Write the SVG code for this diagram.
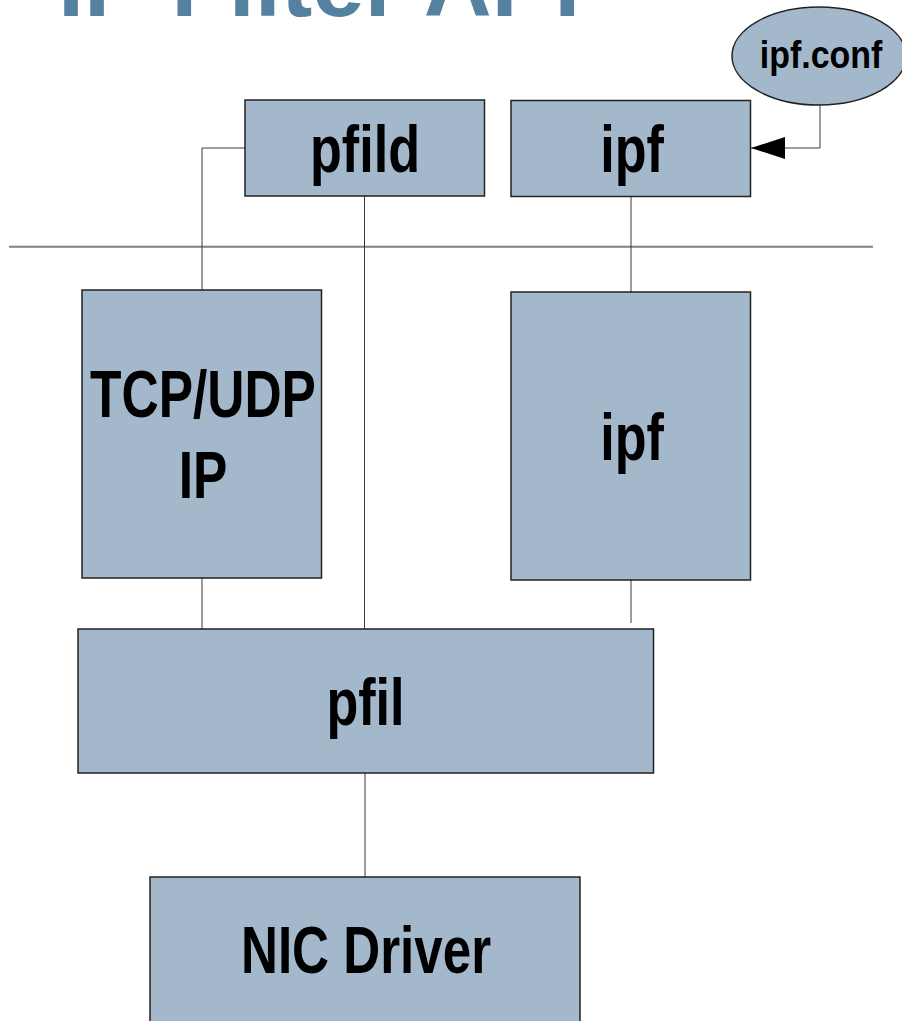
<svg xmlns="http://www.w3.org/2000/svg" width="902" height="1021" viewBox="0 0 902 1021">
  <style>
    .box { fill: #a4b8cc; stroke: #222; stroke-width: 1.5; }
    .lbl { font-family: "Liberation Sans", Arial, sans-serif; font-weight: bold; font-size: 66px; fill: #000; text-anchor: middle; }
    .small { font-size: 39px; }
    .title { font-family: "Liberation Sans", Arial, sans-serif; font-weight: bold; font-size: 94px; fill: #53819f; }
    .wire { fill: none; stroke: #3a3a3a; stroke-width: 1; }
    .sep { stroke: #7f7f7f; stroke-width: 2; }
  </style>
  <defs>
    <marker id="arrow" viewBox="0 0 34 22" refX="34" refY="11" markerWidth="34" markerHeight="22" markerUnits="userSpaceOnUse" orient="auto">
      <path d="M0,0 L34,11 L0,22 Z" fill="#000"/>
    </marker>
  </defs>
  <rect width="902" height="1021" fill="#fff"/>

  <!-- heading, mostly above the top edge -->
  <text class="title" x="58" y="15.5">IP Filter API</text>

  <!-- user / kernel boundary -->
  <line class="sep" x1="9" y1="246.7" x2="873" y2="246.7"/>

  <g id="connectors">
    <polyline class="wire" points="245,148 202,148 202,290"/>
    <line class="wire" x1="364.5" y1="196" x2="364.5" y2="629"/>
    <line class="wire" x1="631" y1="196" x2="631" y2="292"/>
    <line class="wire" x1="202" y1="578" x2="202" y2="629"/>
    <line class="wire" x1="631" y1="580" x2="631" y2="623"/>
    <line class="wire" x1="365" y1="773" x2="365" y2="877"/>
    <polyline class="wire" points="820,105 820,148 751,148" marker-end="url(#arrow)"/>
  </g>

  <g id="ipf-conf">
    <ellipse class="box" cx="819" cy="56" rx="87" ry="49"/>
    <text class="lbl small" transform="translate(821,68.3) scale(0.87,1)">ipf.conf</text>
  </g>

  <g id="pfild">
    <rect class="box" x="245" y="100" width="239.5" height="96"/>
    <text class="lbl" transform="translate(365,171.7) scale(0.79,1)">pfild</text>
  </g>

  <g id="ipf-user">
    <rect class="box" x="511" y="100.5" width="239.5" height="96"/>
    <text class="lbl" transform="translate(632,171.7) scale(0.79,1)">ipf</text>
  </g>

  <g id="tcp-ip">
    <rect class="box" x="82" y="290" width="239.5" height="288"/>
    <text class="lbl" transform="translate(203,416.7) scale(0.78,1)">TCP/UDP</text>
    <text class="lbl" transform="translate(203,498.3) scale(0.78,1)">IP</text>
  </g>

  <g id="ipf-kernel">
    <rect class="box" x="511" y="292" width="239.5" height="288"/>
    <text class="lbl" transform="translate(632,460) scale(0.79,1)">ipf</text>
  </g>

  <g id="pfil">
    <rect class="box" x="78" y="629" width="575.5" height="144"/>
    <text class="lbl" transform="translate(365.5,725) scale(0.79,1)">pfil</text>
  </g>

  <g id="nic-driver">
    <rect class="box" x="150" y="877" width="430" height="160"/>
    <text class="lbl" transform="translate(366,972.7) scale(0.775,1)">NIC Driver</text>
  </g>
</svg>
